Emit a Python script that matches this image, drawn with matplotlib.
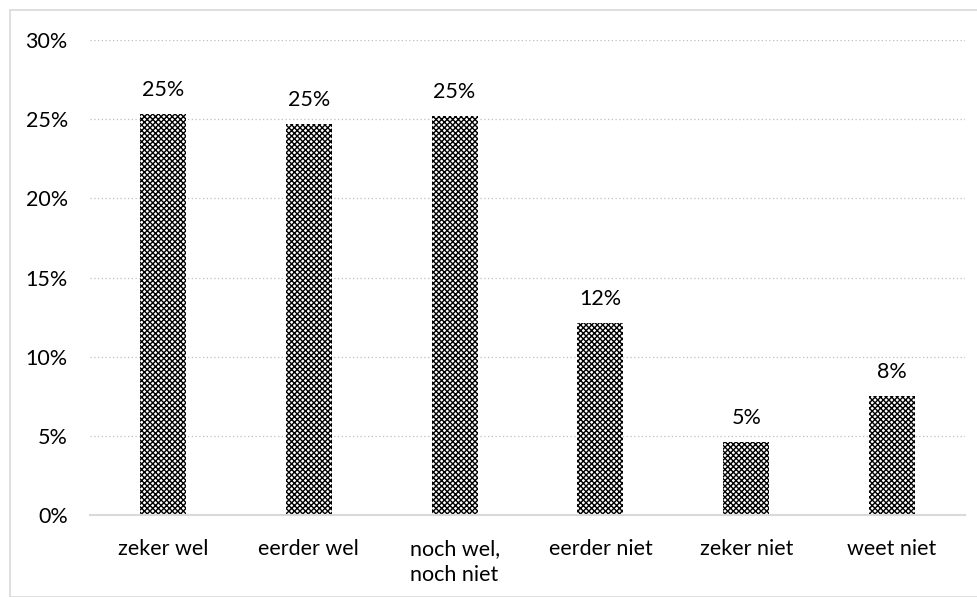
import matplotlib
matplotlib.use("Agg")
import matplotlib.pyplot as plt
from matplotlib.patches import Rectangle
from matplotlib.ticker import FuncFormatter, MultipleLocator

plt.rcParams['font.family'] = ['Lato', 'DejaVu Sans']
plt.rcParams['hatch.linewidth'] = 1.0

categories = ["zeker wel", "eerder wel", "noch wel,\nnoch niet", "eerder niet", "zeker niet", "weet niet"]
values = [25.3, 24.7, 25.2, 12.1, 4.6, 7.5]
labels = ["25%", "25%", "25%", "12%", "5%", "8%"]

fig = plt.figure(figsize=(9.78, 5.97), dpi=100)
fig.patches.append(Rectangle((10/978, 0), 1, 1 - 10/597, transform=fig.transFigure,
                             fill=False, edgecolor='#d9d9d9', linewidth=1.2))
ax = fig.add_axes([90/978, 1 - 515/597, (965-90)/978, (515-40)/597])

x = range(len(categories))
bars = ax.bar(x, values, width=0.315, color='white', edgecolor='black', hatch='xxxxxx', linewidth=0)
for b, lab in zip(bars, labels):
    ax.text(b.get_x() + b.get_width()/2, b.get_height() + 0.9, lab,
            ha='center', va='bottom', fontsize=15.5)

ax.set_ylim(0, 30)
ax.set_xlim(-0.5, len(categories) - 0.5)
ax.yaxis.set_major_locator(MultipleLocator(5))
ax.yaxis.set_major_formatter(FuncFormatter(lambda v, p: f"{v:.0f}%"))
ax.set_xticks(list(x))
ax.set_xticklabels(categories, fontsize=15.5, linespacing=1.4)
ax.tick_params(axis='y', labelsize=15.5, length=0, pad=16)
ax.tick_params(axis='x', length=0, pad=17)
ax.grid(axis='y', color='#bfbfbf', linestyle=(0, (1, 2)), linewidth=0.9)
ax.set_axisbelow(True)
for s in ['top', 'right', 'left']:
    ax.spines[s].set_visible(False)
ax.spines['bottom'].set_color('#d9d9d9')
ax.spines['bottom'].set_linewidth(1.5)

fig.savefig("out.png", dpi=100)
